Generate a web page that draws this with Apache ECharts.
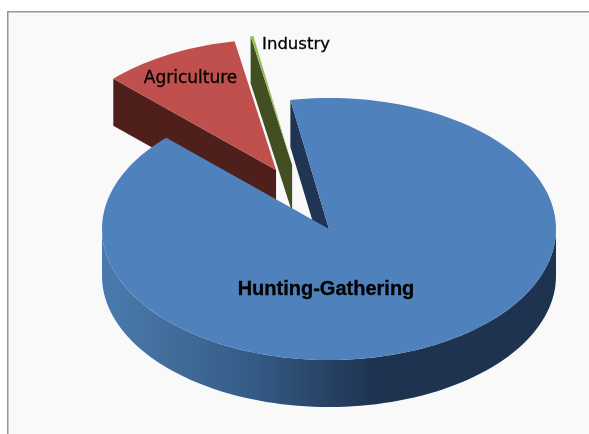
<!DOCTYPE html>
<html>
<head>
<meta charset="utf-8">
<style>
  html, body { margin: 0; padding: 0; background: #ffffff; }
  #chart { width: 589px; height: 434px; }
</style>
<script src="https://cdn.jsdelivr.net/npm/echarts@6/dist/echarts.min.js"></script>
</head>
<body>
<div id="chart"></div>
<script>
var categories = ['Hunting-Gathering', 'Agriculture', 'Industry'];
var shares = [90, 9.8, 0.2];

var topColors = ['#4f81bd', '#c0504d', '#9bbb59'];
var sideColors = ['#1f3553', '#4f1f1b', '#414f22'];
// pulled-out slices: distance as part of the radius, direction in degrees from 12 o'clock
var explodeBy = [0, 0.507, 0.515];
var explodeDir = [0, -27.4, -18.4];
var drawOrder = [3, 1, 2];
var labelPos = [[326, 289], [190.5, 79], [296, 45]];
var labelFont = ['bold 20px "Liberation Sans"', '17px "DejaVu Sans"', '16.5px "DejaVu Sans"'];

var cx = 329, cy = 229, rx = 227, ry = 131, depth = 47;
var startDeg = -9.8;

function rad(deg) {
    return deg * Math.PI / 180;
}

function rim(ox, oy, deg) {
    return [ox + rx * Math.sin(rad(deg)), oy - ry * Math.cos(rad(deg))];
}

// walks the ellipse from one angle to another
function arc(ox, oy, from, to) {
    var pts = [];
    var steps = Math.max(2, Math.ceil(Math.abs(to - from) / 2));
    for (var i = 0; i <= steps; i++) {
        pts.push(rim(ox, oy, from + (to - from) * i / steps));
    }
    return pts;
}

function sliceGroup(idx, from, to) {
    var ox = cx + explodeBy[idx] * rx * Math.sin(rad(explodeDir[idx]));
    var oy = cy - explodeBy[idx] * ry * Math.cos(rad(explodeDir[idx]));
    var z = drawOrder[idx] * 10;
    var children = [];

    // wall of the cut edge, seen from the left
    var cut = rim(ox, oy, from);
    children.push({
        type: 'polygon',
        z2: z,
        shape: { points: [cut, [cut[0], cut[1] + depth], [ox, oy + depth], [ox, oy]] },
        style: { fill: sideColors[idx] }
    });

    // outer wall, only the slice that reaches the front has one
    if (to > 90 && from < 270) {
        var a = Math.max(from, 90), b = Math.min(to, 270);
        var lower = arc(ox, oy + depth, a, b);
        var upper = arc(ox, oy, b, a);
        children.push({
            type: 'polygon',
            z2: z + 1,
            shape: { points: lower.concat(upper) },
            style: {
                fill: new echarts.graphic.LinearGradient(0, 0, 1, 0, [
                    { offset: 0, color: '#4a7aae' },
                    { offset: 0.12, color: '#44709f' },
                    { offset: 0.34, color: '#335a85' },
                    { offset: 0.52, color: '#263f60' },
                    { offset: 0.6, color: '#1e3350' },
                    { offset: 1, color: '#1e3350' }
                ])
            }
        });
    }

    children.push({
        type: 'polygon',
        z2: z + 2,
        shape: { points: [[ox, oy]].concat(arc(ox, oy, from, to)) },
        style: { fill: topColors[idx] }
    });
    children.push({
        type: 'text',
        z2: 50,
        style: {
            x: labelPos[idx][0],
            y: labelPos[idx][1],
            text: categories[idx],
            font: labelFont[idx],
            fill: '#000000',
            stroke: '#000000',
            lineWidth: 0.3,
            align: 'center',
            verticalAlign: 'middle'
        }
    });
    return { type: 'group', children: children };
}

var total = shares.reduce(function (s, v) { return s + v; }, 0);
var sliceStart = [];
var running = startDeg;
shares.forEach(function (v) {
    sliceStart.push(running);
    running += v / total * 360;
});

var chart = echarts.init(document.getElementById('chart'), null, { renderer: 'canvas' });
chart.setOption({
    animation: false,
    backgroundColor: '#ffffff',
    graphic: [{
        type: 'rect',
        silent: true,
        z: 0,
        shape: { x: 7.75, y: 11.75, width: 640, height: 480 },
        style: { fill: '#f9f9f9', stroke: '#969696', lineWidth: 1.5 }
    }],
    series: [{
        type: 'custom',
        coordinateSystem: 'none',
        silent: true,
        z: 5,
        data: categories.map(function (name, i) {
            return { name: name, value: shares[i] };
        }),
        renderItem: function (params, api) {
            var i = params.dataIndex;
            return sliceGroup(i, sliceStart[i], sliceStart[i] + api.value(0) / total * 360);
        }
    }]
});
</script>
</body>
</html>
